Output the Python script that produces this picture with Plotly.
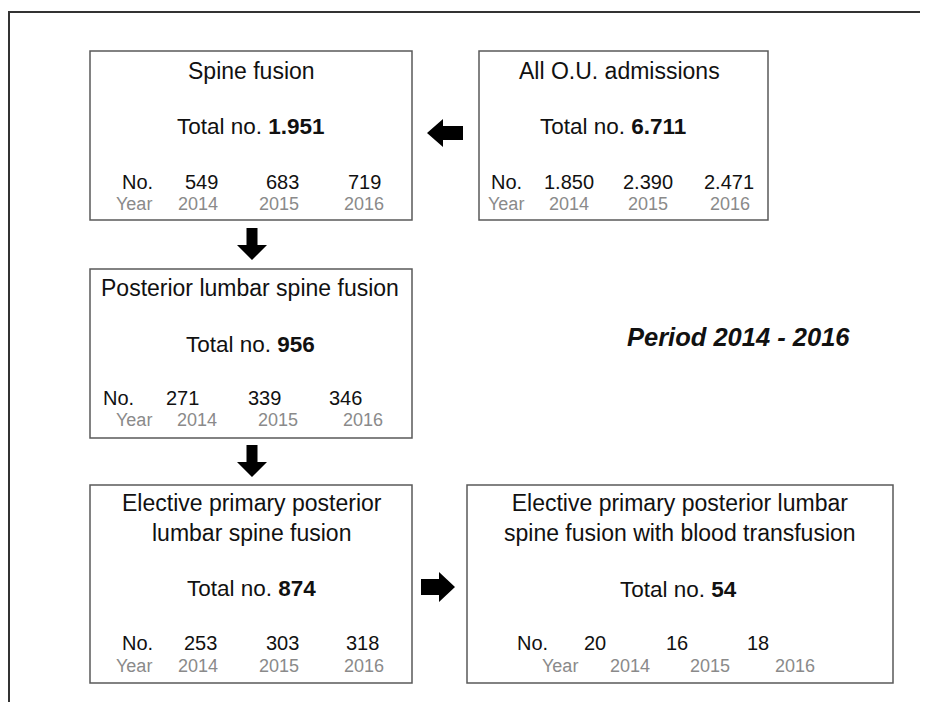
import plotly.graph_objects as go

# ---- data ----
box_titles = [
    "Spine fusion",
    "All O.U. admissions",
    "Posterior lumbar spine fusion",
    "Elective primary posterior<br>lumbar spine fusion",
    "Elective primary posterior lumbar<br>spine fusion with blood transfusion",
]
box_totals = ["1.951", "6.711", "956", "874", "54"]
years = ["2014", "2015", "2016"]
counts_spine = ["549", "683", "719"]
counts_all = ["1.850", "2.390", "2.471"]
counts_plsf = ["271", "339", "346"]
counts_elective = ["253", "303", "318"]
counts_transf = ["20", "16", "18"]
period_label = "Period 2014 - 2016"

box_counts = [counts_spine, counts_all, counts_plsf, counts_elective, counts_transf]

# ---- layout geometry (page pixel space; the page body has an 8px margin) ----
W, H = 928, 702
PAGE_MARGIN = 8
boxes = [  # x0, x1, y0, y1
    (90, 412, 51, 220),
    (479, 768, 51, 220),
    (90, 412, 269, 438),
    (90, 412, 485, 683),
    (467, 893, 485, 683),
]
title_pos = [(251, 71), (619, 71), (250, 288), (252, 518), (680, 518)]
total_pos = [(251, 126), (613, 126), (250, 344), (251, 588), (678, 589)]
no_y = [182, 182, 398, 643, 643]
year_y = [204, 204, 420, 666, 666]
no_x = [
    [137, 201, 282, 364],
    [506, 569, 648, 729],
    [118, 182, 264, 345],
    [137, 200, 282, 362],
    [532, 595, 677, 758],
]
year_x = [
    [134, 198, 279, 364],
    [506, 569, 648, 730],
    [134, 197, 278, 363],
    [134, 198, 279, 364],
    [560, 630, 710, 795],
]

FONT = "Liberation Sans, Arial, sans-serif"
BLACK = "#111111"
GREY = "#8a8a8a"

fig = go.Figure()
fig.add_trace(go.Scatter(x=[PAGE_MARGIN, W], y=[PAGE_MARGIN, H], mode="markers",
                         marker=dict(opacity=0), hoverinfo="skip", showlegend=False))

shapes = []
annotations = []

# outer frame
shapes.append(dict(type="line", xref="paper", yref="y", x0=0.0, x1=1.2, y0=12, y1=12,
                   line=dict(color="#333333", width=2)))
shapes.append(dict(type="line", x0=9, x1=9, y0=12, y1=H + 5,
                   line=dict(color="#333333", width=2)))

for i, (x0, x1, y0, y1) in enumerate(boxes):
    shapes.append(dict(type="rect", x0=x0, x1=x1, y0=y0, y1=y1,
                       line=dict(color="#5a5a5a", width=1.5), fillcolor="white"))
    tx, ty = title_pos[i]
    annotations.append(dict(x=tx, y=ty, text=box_titles[i], showarrow=False,
                            xanchor="center", yanchor="middle",
                            font=dict(family=FONT, size=23, color=BLACK)))
    sx, sy = total_pos[i]
    annotations.append(dict(x=sx, y=sy, text="Total no. <b>" + box_totals[i] + "</b>",
                            showarrow=False, xanchor="center", yanchor="middle",
                            font=dict(family=FONT, size=22.5, color=BLACK)))
    row_no = ["No."] + box_counts[i]
    for j, t in enumerate(row_no):
        annotations.append(dict(x=no_x[i][j], y=no_y[i], text=t, showarrow=False,
                                xanchor="center", yanchor="middle",
                                font=dict(family=FONT, size=20, color=BLACK)))
    row_year = ["Year"] + years
    for j, t in enumerate(row_year):
        annotations.append(dict(x=year_x[i][j], y=year_y[i], text=t, showarrow=False,
                                xanchor="center", yanchor="middle",
                                font=dict(family=FONT, size=18, color=GREY)))

annotations.append(dict(x=738, y=337, text="<b><i>" + period_label + "</i></b>",
                        showarrow=False, xanchor="center", yanchor="middle",
                        font=dict(family=FONT, size=25.5, color=BLACK)))


def arrow_left(tip_x, cy, head_len=16, total_len=36, head_h=28, shaft_h=14):
    bx = tip_x + head_len
    ex = tip_x + total_len
    return (f"M {tip_x} {cy} L {bx} {cy - head_h/2} L {bx} {cy - shaft_h/2} "
            f"L {ex} {cy - shaft_h/2} L {ex} {cy + shaft_h/2} L {bx} {cy + shaft_h/2} "
            f"L {bx} {cy + head_h/2} Z")


def arrow_right(tip_x, cy, head_len=16, total_len=34, head_h=30, shaft_h=16):
    bx = tip_x - head_len
    sx = tip_x - total_len
    return (f"M {tip_x} {cy} L {bx} {cy - head_h/2} L {bx} {cy - shaft_h/2} "
            f"L {sx} {cy - shaft_h/2} L {sx} {cy + shaft_h/2} L {bx} {cy + shaft_h/2} "
            f"L {bx} {cy + head_h/2} Z")


def arrow_down(cx, tip_y, head_len=15, total_len=32, head_w=30, shaft_w=11):
    by = tip_y - head_len
    sy = tip_y - total_len
    return (f"M {cx} {tip_y} L {cx - head_w/2} {by} L {cx - shaft_w/2} {by} "
            f"L {cx - shaft_w/2} {sy} L {cx + shaft_w/2} {sy} L {cx + shaft_w/2} {by} "
            f"L {cx + head_w/2} {by} Z")


for p in [arrow_left(427, 133), arrow_right(455, 587),
          arrow_down(252, 260), arrow_down(252, 477)]:
    shapes.append(dict(type="path", path=p, fillcolor="black",
                       line=dict(color="black", width=0)))

fig.update_layout(
    width=W - PAGE_MARGIN, height=H - PAGE_MARGIN,
    margin=dict(l=0, r=0, t=0, b=0),
    paper_bgcolor="white", plot_bgcolor="white",
    xaxis=dict(range=[PAGE_MARGIN, W], visible=False, fixedrange=True),
    yaxis=dict(range=[H, PAGE_MARGIN], visible=False, fixedrange=True),
    shapes=shapes, annotations=annotations, showlegend=False,
)

fig.write_html("out.html")
